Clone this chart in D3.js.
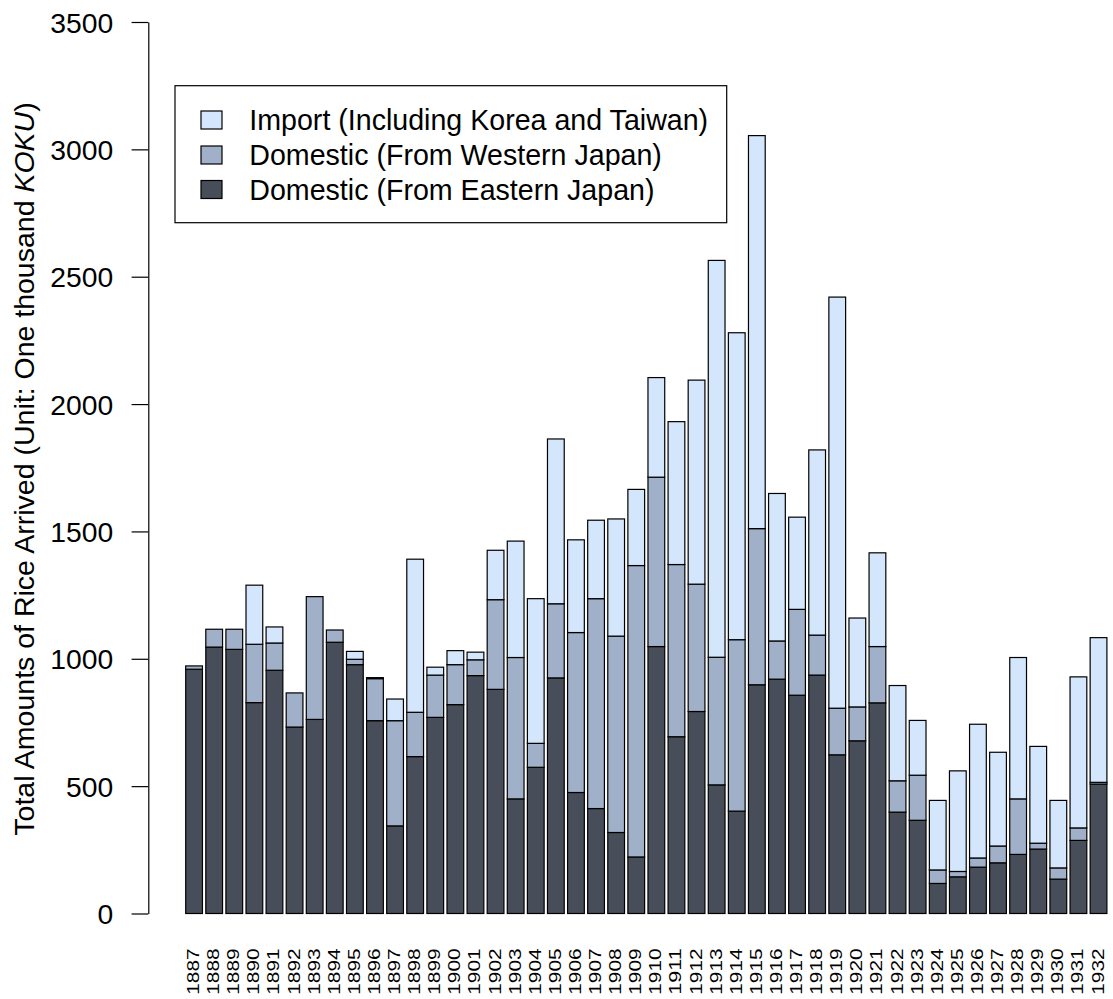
<!DOCTYPE html>
<html>
<head>
<meta charset="utf-8">
<script src="https://cdn.jsdelivr.net/npm/d3@7"></script>
<style>
  html, body { margin: 0; padding: 0; background: #fff; }
  svg { display: block; }
  text { font-family: "Liberation Sans", Arial, Helvetica, sans-serif; fill: #000; }
</style>
</head>
<body>
<script>
const years = d3.range(1887, 1933).map(String);
const eastern = [959,1046,1037,828,955,732,762,1065,977,757,344,616,770,820,934,880,450,574,925,475,412,318,222,1048,694,793,505,402,898,920,857,936,623,678,827,398,366,118,144,182,199,232,253,135,287,508];
const western = [13,70,79,229,107,134,482,48,21,165,413,174,166,157,62,352,555,94,291,628,824,771,1144,665,676,500,501,673,613,150,337,157,183,133,221,123,177,53,21,36,66,218,23,44,49,7];
const imports = [0,0,0,232,63,0,0,0,31,4,85,601,31,55,30,194,457,568,647,364,308,460,299,391,561,801,1558,1205,1543,579,362,727,1614,349,368,374,215,273,395,525,368,555,380,265,593,568];
const yTicks = [0,500,1000,1500,2000,2500,3000,3500];
const seriesNames = ["Domestic (From Eastern Japan)", "Domestic (From Western Japan)", "Import (Including Korea and Taiwan)"];
const seriesColors = ["#484e59", "#a0b0c9", "#d4e6fc"];
const legendOrder = [2, 1, 0];

const W = 1113, H = 999;
const svg = d3.select("body").append("svg").attr("width", W).attr("height", H);

const x = d3.scaleBand().domain(years).range([185.7, 1106.9]).paddingInner(0.2/1.2).paddingOuter(0);
const y = d3.scaleLinear().domain([0, 3500]).range([913.5, 22]);

const table = years.map((yr, i) => ({year: yr, e: eastern[i], w: western[i], im: imports[i]}));
const stack = d3.stack().keys(["e", "w", "im"])(table);

stack.forEach((layer, li) => {
  svg.append("g").selectAll("rect").data(layer.filter(d => d[1] - d[0] > 0)).join("rect")
    .attr("x", d => x(d.data.year))
    .attr("width", x.bandwidth())
    .attr("y", d => y(d[1]))
    .attr("height", d => y(d[0]) - y(d[1]))
    .attr("fill", seriesColors[li])
    .attr("stroke", "#000")
    .attr("stroke-width", 1.2);
});

// y axis
const yAxis = svg.append("g").attr("transform", "translate(148.3,0)")
  .call(d3.axisLeft(y).tickValues(yTicks).tickFormat(d3.format("d")).tickSize(16.7).tickSizeOuter(0).tickPadding(18.4));
yAxis.select(".domain").attr("stroke", "#000").attr("stroke-width", 1.2);
yAxis.selectAll(".tick line").attr("stroke", "#000").attr("stroke-width", 1.2);
yAxis.selectAll(".tick text").attr("font-size", 28.3).attr("dy", "0.36em")
  .attr("font-family", "'Liberation Sans', Arial, Helvetica, sans-serif");

// x labels
svg.append("g").selectAll("text").data(years).join("text")
  .attr("transform", d => `translate(${x(d) + x.bandwidth()/2 + 5},948.3) rotate(-90)`)
  .attr("text-anchor", "end")
  .attr("font-size", 16.8)
  .attr("textLength", 46.5)
  .attr("lengthAdjust", "spacingAndGlyphs")
  .text(d => d);

// y title
const title = svg.append("text")
  .attr("transform", "translate(33.5,469) rotate(-90)")
  .attr("text-anchor", "middle")
  .attr("font-size", 28.5);
title.append("tspan").text("Total Amounts of Rice Arrived (Unit: One thousand ");
title.append("tspan").attr("font-style", "italic").text("KOKU");
title.append("tspan").text(")");

// legend
const lg = svg.append("g");
lg.append("rect").attr("x", 175).attr("y", 85.7).attr("width", 551.7).attr("height", 137)
  .attr("fill", "#fff").attr("stroke", "#000").attr("stroke-width", 1.2);
const rowY = [120, 155, 189.5];
legendOrder.forEach((si, r) => {
  lg.append("rect").attr("x", 201).attr("y", rowY[r] - 9).attr("width", 21).attr("height", 18)
    .attr("fill", seriesColors[si]).attr("stroke", "#000").attr("stroke-width", 1.2);
  lg.append("text").attr("x", 249.3).attr("y", rowY[r]).attr("dy", "0.36em")
    .attr("font-size", 28.6).text(seriesNames[si]);
});
</script>
</body>
</html>
